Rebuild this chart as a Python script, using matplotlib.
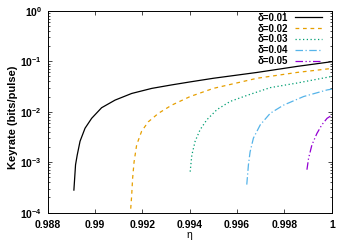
import numpy as np
import matplotlib
matplotlib.use('Agg')
import matplotlib.pyplot as plt
from matplotlib.ticker import FixedLocator, LogLocator, FuncFormatter, NullFormatter

plt.rcParams['font.family'] = ['Liberation Sans', 'DejaVu Sans']
plt.rcParams['mathtext.fontset'] = 'custom'
plt.rcParams['mathtext.rm'] = 'Liberation Sans'
plt.rcParams['mathtext.bf'] = 'Liberation Sans:bold'

# values
eta_1 = [0.98911, 0.98918, 0.98925, 0.98937, 0.98958, 0.98986, 0.99028, 0.99085,
         0.99155, 0.99240, 0.99324, 0.99402, 0.99500, 0.99684, 0.99853, 1.0]
key_1 = [2.8e-4, 8.9e-4, 1.38e-3, 2.6e-3, 4.7e-3, 7.4e-3, 1.2e-2, 1.7e-2,
         2.3e-2, 2.9e-2, 3.4e-2, 3.9e-2, 4.6e-2, 6.0e-2, 7.9e-2, 9.8e-2]

eta_2 = [0.99151, 0.99155, 0.99159, 0.99165, 0.99176, 0.99197, 0.99225, 0.99268,
         0.99324, 0.99402, 0.99500, 0.99684, 0.99853, 1.0]
key_2 = [1.2e-4, 2.2e-4, 4.8e-4, 1.0e-3, 2.2e-3, 4.1e-3, 6.3e-3, 9.3e-3,
         1.35e-2, 2.0e-2, 2.9e-2, 4.6e-2, 6.0e-2, 7.2e-2]

eta_3 = [0.99402, 0.99409, 0.99423, 0.99444, 0.99472, 0.99515, 0.99571, 0.99641,
         0.99740, 0.99853, 1.0]
key_3 = [6.5e-4, 1.38e-3, 2.6e-3, 4.4e-3, 6.9e-3, 1.1e-2, 1.6e-2, 2.1e-2,
         3.0e-2, 3.7e-2, 5.0e-2]

eta_4 = [0.99641, 0.99648, 0.99655, 0.99669, 0.99698, 0.99740, 0.99796, 0.99881,
         0.99980, 1.0]
key_4 = [3.6e-4, 8.9e-4, 1.6e-3, 3.0e-3, 5.5e-3, 9.3e-3, 1.35e-2, 2.0e-2,
         2.7e-2, 2.8e-2]

eta_5 = [0.99895, 0.99902, 0.99916, 0.99937, 0.99958, 0.99980, 1.0]
key_5 = [7.1e-4, 1.2e-3, 2.2e-3, 3.7e-3, 5.5e-3, 7.4e-3, 8.5e-3]

labels = ['δ=0.01', 'δ=0.02', 'δ=0.03', 'δ=0.04', 'δ=0.05']
xticks = [0.988, 0.99, 0.992, 0.994, 0.996, 0.998, 1.0]
xticklabels = ['0.988', '0.99', '0.992', '0.994', '0.996', '0.998', '1']

colors = ['black', '#e69f00', '#009e73', '#56b4e9', '#9400d3']
styles = ['-', (0, (3, 3)), (0, (1, 2)), (0, (6, 2, 1, 2)), (0, (6, 2, 1, 2, 1, 2))]

fig = plt.figure(figsize=(3.5, 2.45), dpi=100)
ax = fig.add_axes([0.136, 0.132, 0.812, 0.824])

series = [(eta_1, key_1), (eta_2, key_2), (eta_3, key_3), (eta_4, key_4), (eta_5, key_5)]
for (x, y), c, ls, lab in zip(series, colors, styles, labels):
    ax.plot(x, y, color=c, linestyle=ls, linewidth=0.9, label=lab)

ax.set_yscale('log')
ax.set_xlim(0.988, 1.0)
ax.set_ylim(1e-4, 1)
ax.xaxis.set_major_locator(FixedLocator(xticks))
ax.set_xticklabels(xticklabels)
ax.yaxis.set_major_locator(LogLocator(base=10, numticks=10))
ax.yaxis.set_minor_locator(LogLocator(base=10, subs=np.arange(2, 10), numticks=10))
ax.yaxis.set_minor_formatter(NullFormatter())
ax.yaxis.set_major_formatter(FuncFormatter(
    lambda v, p: r'$\mathbf{10^{%d}}$' % int(round(np.log10(v)))))

ax.tick_params(which='both', direction='in', top=True, right=True, labelsize=7.5)
ax.tick_params(axis='x', pad=5)
ax.tick_params(axis='y', pad=4)
ax.tick_params(which='major', length=3, width=0.5)
ax.tick_params(which='minor', length=1.5, width=0.5)
for t in ax.get_xticklabels():
    t.set_fontweight('bold')
for s in ax.spines.values():
    s.set_linewidth(0.7)

ax.set_ylabel('Keyrate (bits/pulse)', fontsize=8, fontweight='bold')
ax.yaxis.set_label_coords(-0.105, 0.47)
ax.set_xlabel('η', fontsize=7.5, labelpad=0)

leg = ax.legend(loc='upper right', bbox_to_anchor=(0.965, 0.99), frameon=False,
                markerfirst=False, handlelength=2.8, handletextpad=0.7,
                labelspacing=0.08, borderpad=0, borderaxespad=0,
                prop={'weight': 'bold', 'size': 7})
for t in leg.get_texts():
    t.set_ha('right')

fig.savefig('out.png', dpi=100)
